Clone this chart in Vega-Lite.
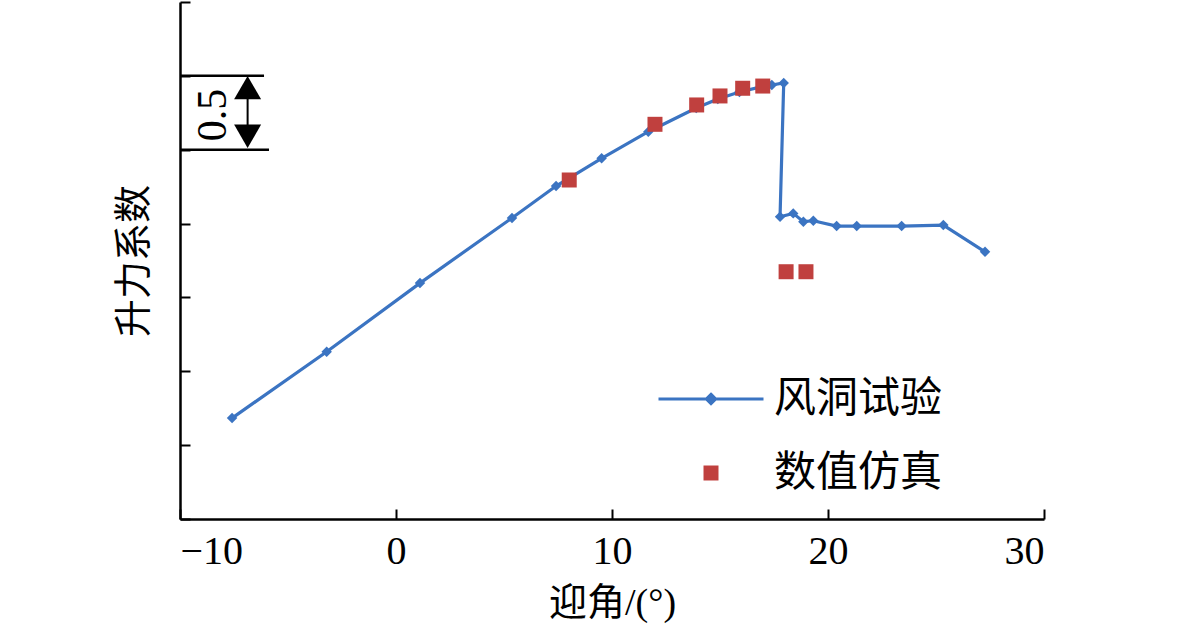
{
  "$schema": "https://vega.github.io/schema/vega-lite/v6.json",
  "width": 864,
  "height": 517,
  "autosize": {"type": "none"},
  "padding": {"left": 180, "top": 2, "right": 137, "bottom": 115},
  "background": "white",
  "config": {
    "view": {"stroke": null},
    "axis": {
      "grid": false,
      "domainColor": "black",
      "domainWidth": 2.5,
      "tickColor": "black",
      "tickWidth": 2,
      "labelFont": "Liberation Serif",
      "labelFontSize": 40,
      "labelColor": "black",
      "titleFont": "Liberation Serif, Noto Sans CJK SC",
      "titleFontSize": 38,
      "titleColor": "black",
      "titleFontWeight": "normal"
    },
    "legend": {
      "symbolSize": 400,
      "rowPadding": 32,
      "labelOffset": 42,
      "labelFontSize": 42,
      "labelFont": "Liberation Serif, Noto Sans CJK SC",
      "labelColor": "black",
      "labelLimit": 400
    }
  },
  "datasets": {
    "wind": [
      {"idx": 1, "aoa": -7.59, "cl": -0.317, "series": "风洞试验"},
      {"idx": 2, "aoa": -3.21, "cl": 0.132, "series": "风洞试验"},
      {"idx": 3, "aoa": 1.11, "cl": 0.597, "series": "风洞试验"},
      {"idx": 4, "aoa": 5.37, "cl": 1.038, "series": "风洞试验"},
      {"idx": 5, "aoa": 7.41, "cl": 1.254, "series": "风洞试验"},
      {"idx": 6, "aoa": 9.52, "cl": 1.442, "series": "风洞试验"},
      {"idx": 7, "aoa": 11.68, "cl": 1.622, "series": "风洞试验"},
      {"idx": 8, "aoa": 13.9, "cl": 1.782, "series": "风洞试验"},
      {"idx": 9, "aoa": 14.9, "cl": 1.843, "series": "风洞试验"},
      {"idx": 10, "aoa": 15.9, "cl": 1.891, "series": "风洞试验"},
      {"idx": 11, "aoa": 16.9, "cl": 1.925, "series": "风洞试验"},
      {"idx": 12, "aoa": 17.4, "cl": 1.938, "series": "风洞试验"},
      {"idx": 13, "aoa": 17.95, "cl": 1.952, "series": "风洞试验"},
      {"idx": 14, "aoa": 17.78, "cl": 1.046, "series": "风洞试验"},
      {"idx": 15, "aoa": 18.39, "cl": 1.069, "series": "风洞试验"},
      {"idx": 16, "aoa": 18.86, "cl": 1.013, "series": "风洞试验"},
      {"idx": 17, "aoa": 19.32, "cl": 1.019, "series": "风洞试验"},
      {"idx": 18, "aoa": 20.4, "cl": 0.983, "series": "风洞试验"},
      {"idx": 19, "aoa": 21.33, "cl": 0.983, "series": "风洞试验"},
      {"idx": 20, "aoa": 23.41, "cl": 0.983, "series": "风洞试验"},
      {"idx": 21, "aoa": 25.34, "cl": 0.99, "series": "风洞试验"},
      {"idx": 22, "aoa": 27.27, "cl": 0.809, "series": "风洞试验"}
    ],
    "sim": [
      {"aoa": 8.02, "cl": 1.295, "series": "数值仿真"},
      {"aoa": 11.99, "cl": 1.672, "series": "数值仿真"},
      {"aoa": 13.92, "cl": 1.803, "series": "数值仿真"},
      {"aoa": 15.0, "cl": 1.864, "series": "数值仿真"},
      {"aoa": 16.05, "cl": 1.916, "series": "数值仿真"},
      {"aoa": 16.98, "cl": 1.931, "series": "数值仿真"},
      {"aoa": 18.06, "cl": 0.674, "series": "数值仿真"},
      {"aoa": 18.98, "cl": 0.674, "series": "数值仿真"}
    ],
    "barLines": [
      {"x": -10, "x2": -6.11, "y": 2.0},
      {"x": -10, "x2": -5.88, "y": 1.5}
    ],
    "barShaft": [{"x": -6.87, "y": 1.9, "y2": 1.6}],
    "barHeads": [
      {"x": -6.87, "y": 1.92, "dir": "up"},
      {"x": -6.87, "y": 1.591, "dir": "down"}
    ],
    "barLabel": [{"x": -8.47, "y": 1.735, "text": "0.5"}]
  },
  "layer": [
    {
      "data": {"name": "barLines"},
      "mark": {"type": "rule", "color": "black", "strokeWidth": 2.5},
      "encoding": {
        "x": {"field": "x", "type": "quantitative", "scale": {"domain": [-10, 30], "nice": false, "zero": false},
              "axis": {"values": [-10, 0, 10, 20, 30], "tickSize": -10, "labelPadding": 22, "title": "迎角/(°)", "titlePadding": 13}},
        "x2": {"field": "x2"},
        "y": {"field": "y", "type": "quantitative", "scale": {"domain": [-1, 2.5], "nice": false, "zero": false},
              "axis": {"values": [-1, -0.5, 0, 0.5, 1, 1.5, 2, 2.5], "tickSize": -10, "labels": false, "title": "升力系数", "titlePadding": 26}}
      }
    },
    {
      "data": {"name": "barShaft"},
      "mark": {"type": "rule", "color": "black", "strokeWidth": 2},
      "encoding": {
        "x": {"field": "x", "type": "quantitative"},
        "y": {"field": "y", "type": "quantitative"},
        "y2": {"field": "y2"}
      }
    },
    {
      "data": {"name": "barHeads"},
      "mark": {"type": "point", "filled": true, "color": "black", "size": 729, "opacity": 1},
      "encoding": {
        "x": {"field": "x", "type": "quantitative"},
        "y": {"field": "y", "type": "quantitative"},
        "shape": {"field": "dir", "type": "nominal", "scale": {"domain": ["up", "down"], "range": ["triangle-up", "triangle-down"]}, "legend": null}
      }
    },
    {
      "data": {"name": "barLabel"},
      "mark": {"type": "text", "font": "Liberation Serif", "fontSize": 42, "angle": 270, "align": "center", "baseline": "middle", "color": "black"},
      "encoding": {
        "x": {"field": "x", "type": "quantitative"},
        "y": {"field": "y", "type": "quantitative"},
        "text": {"field": "text"}
      }
    },
    {
      "data": {"name": "wind"},
      "mark": {"type": "line", "strokeWidth": 3.2},
      "encoding": {
        "x": {"field": "aoa", "type": "quantitative"},
        "y": {"field": "cl", "type": "quantitative"},
        "order": {"field": "idx", "type": "quantitative"},
        "color": {
          "field": "series", "type": "nominal",
          "scale": {"domain": ["风洞试验", "数值仿真"], "range": ["#3b74c2", "#c0403e"]},
          "legend": {
            "title": null,
            "orient": "none",
            "legendX": 510,
            "legendY": 376,
            "symbolSize": 400,
            "encode": {
              "symbols": {
                "update": {
                  "shape": {"signal": "datum.value === '风洞试验' ? 'M-5.25,0H5.25M0,-0.45L0.45,0L0,0.45L-0.45,0Z' : 'square'"},
                  "size": {"signal": "datum.value === '风洞试验' ? 400 : 225"},
                  "fill": {"signal": "datum.value === '风洞试验' ? '#3b74c2' : '#c0403e'"},
                  "stroke": {"signal": "datum.value === '风洞试验' ? '#3b74c2' : '#c0403e'"},
                  "strokeWidth": {"signal": "datum.value === '风洞试验' ? 3.2 : 0"},
                  "opacity": {"value": 1}
                }
              }
            }
          }
        }
      }
    },
    {
      "data": {"name": "wind"},
      "mark": {"type": "point", "filled": true, "shape": "diamond", "size": 110, "opacity": 1},
      "encoding": {
        "x": {"field": "aoa", "type": "quantitative"},
        "y": {"field": "cl", "type": "quantitative"},
        "color": {"field": "series", "type": "nominal"}
      }
    },
    {
      "data": {"name": "sim"},
      "mark": {"type": "point", "filled": true, "shape": "square", "size": 225, "opacity": 1},
      "encoding": {
        "x": {"field": "aoa", "type": "quantitative"},
        "y": {"field": "cl", "type": "quantitative"},
        "color": {"field": "series", "type": "nominal"}
      }
    }
  ]
}
